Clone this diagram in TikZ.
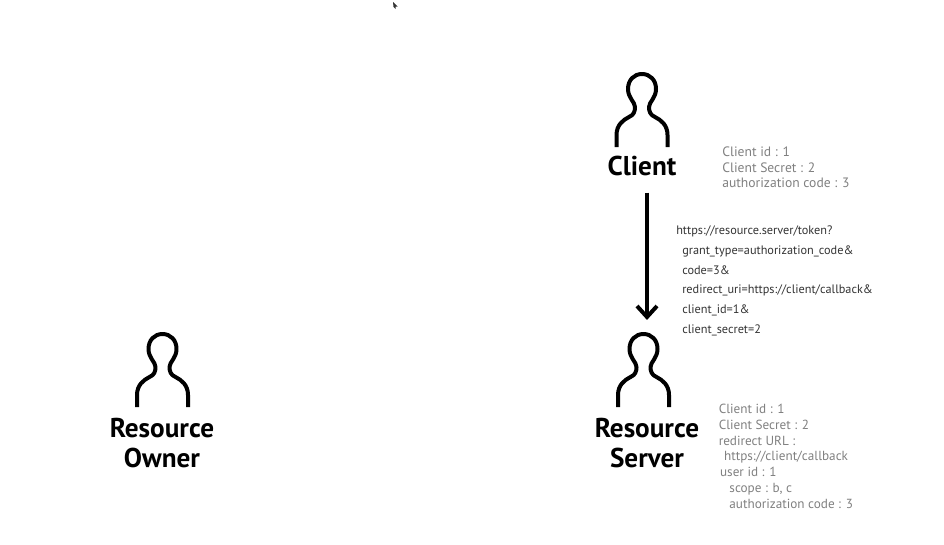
\documentclass[tikz,border=0pt]{standalone}
\usepackage{fontspec}
\usepackage{xcolor}
\setmainfont{PT Sans}
\usetikzlibrary{arrows}
\definecolor{notegray}{gray}{0.5}
\definecolor{urlgray}{gray}{0.2}
\tikzset{
  person/.pic={
    \coordinate (-top) at (0,0);
    \draw[line width=3pt,line join=round] (-25.5,72) -- (-25.5,60)
      .. controls (-25.5,50) and (-19,45) .. (-13,42)
      .. controls (-8,40) and (-7,36) .. (-7,32)
      .. controls (-7,27) and (-14,23) .. (-14,14)
      .. controls (-14,5) and (-8,-1) .. (0,-1)
      .. controls (8,-1) and (14,5) .. (14,14)
      .. controls (14,23) and (7,27) .. (7,32)
      .. controls (7,36) and (8,40) .. (13,42)
      .. controls (19,45) and (25.5,50) .. (25.5,60) -- (25.5,72);
  },
  actor/.style={font=\bfseries\fontsize{20.4}{22.5}\selectfont,align=center,inner sep=0pt},
  note/.style={anchor=north west,align=left,inner sep=0pt,text=notegray,font=\fontsize{10.2}{11.8}\selectfont},
  url/.style={anchor=north west,align=left,inner sep=0pt,text=urlgray,font=\fontsize{9.2}{14.85}\selectfont},
  flow/.style={line width=3pt}
}
\begin{document}
\begin{tikzpicture}[x=.75pt,y=-.75pt]
  \useasboundingbox (0,0) rectangle (944,544);
  % people
  \pic (client) at (642,75) {person};
  \pic (server) at (643.5,335) {person};
  \pic (owner) at (162.5,335) {person};
  \node[actor] (clientname) at (642,165.5) {Client};
  \node[actor] (servername) at (647,443) {Resource\\Server};
  \node[actor] (ownername) at (162,443) {Resource\\Owner};
  % the request
  \draw[flow] ([shift={(5,17)}]clientname.south) -- ([shift={(3.5,-18)}]server-top) coordinate (tip);
  \draw[flow,line join=miter] ([shift={(-10,-11)}]tip) -- (tip) -- ([shift={(10,-11)}]tip);
  % texts
  \node[note] (clientnote) at (722,146.5) {Client id : 1\\Client Secret : 2\\authorization code : 3};
  \node[url] (request) at (676,225.5) {https://resource.server/token?\\
    \hspace*{4.5pt}grant\_type=authorization\_code\&\\
    \hspace*{4.5pt}code=3\&\\
    \hspace*{4.5pt}redirect\_uri=https://client/callback\&\\
    \hspace*{4.5pt}client\_id=1\&\\
    \hspace*{4.5pt}client\_secret=2};
  \node[note,font=\fontsize{9.9}{11.8}\selectfont] (servernote) at (718.5,404) {Client id : 1\\Client Secret : 2\\redirect URL :\\
    \hspace*{4pt}https://client/callback\\
    \hspace*{1pt}user id : 1\\
    \hspace*{8pt}scope : b, c\\
    \hspace*{8pt}authorization code : 3};
  % pointer
  \fill[black!80] (393,2) -- (397.5,6.5) -- (395.5,6.5) -- (395.5,9) -- (393.5,7) -- cycle;
\end{tikzpicture}
\end{document}
